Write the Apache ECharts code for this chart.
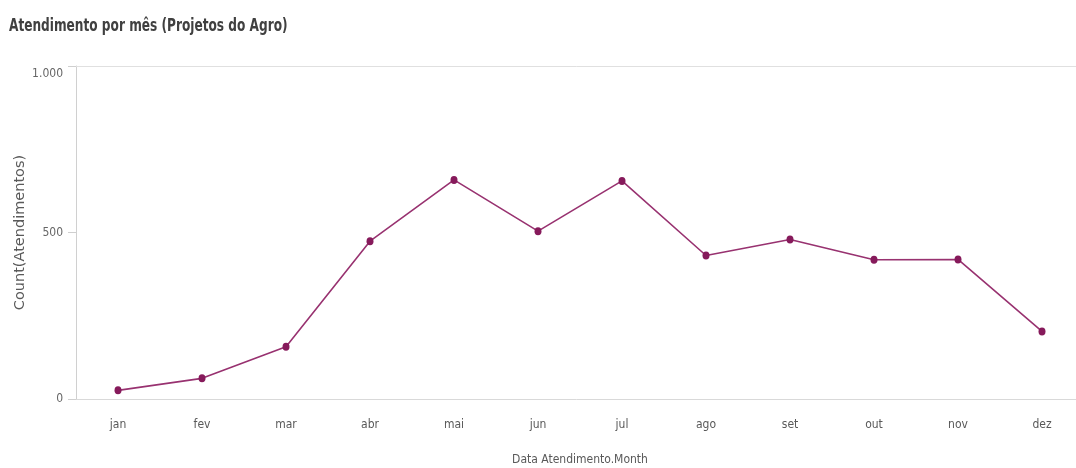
<!DOCTYPE html>
<html>
<head>
    <meta charset="utf-8" />
    <title>Atendimento por mês</title>
    <style>
        html, body { margin: 0; padding: 0; background: #fff; }
        #chart { width: 1076px; height: 468px; }
    </style>
</head>
<body>
    <div id="chart"></div>
    <script src="https://cdn.jsdelivr.net/npm/echarts@6/dist/echarts.min.js"></script>
<script>
    // dados
    var meses = ['jan', 'fev', 'mar', 'abr', 'mai', 'jun', 'jul', 'ago', 'set', 'out', 'nov', 'dez'];
    var atendimentos = [26, 62, 157, 474, 658, 504, 655, 431, 479, 418, 419, 203];
    var yTicks = [0, 500, 1000];

    // fonte estreita: DejaVu Sans com font-stretch condensed
    var narrow = '"DejaVu Sans Condensed", "DejaVu Sans", sans-serif';

    var myChart = echarts.init(document.getElementById('chart'));
    var option = {
        animation: false,
        // título como texto gráfico, comprimido na horizontal
        graphic: [
            {
                type: 'text',
                left: 9,
                top: 17,
                scaleX: 0.75,
                style: {
                    text: 'Atendimento por mês (Projetos do Agro)',
                    fontFamily: narrow,
                    fontSize: 18,
                    fontWeight: 'bold condensed',
                    fill: '#404040'
                }
            }
        ],
        grid: {
            left: 76,
            right: -8,
            top: 66,
            bottom: 69,
            outerBoundsMode: 'none'
        },
        xAxis: [
            {
                type: 'category',
                data: meses,
                boundaryGap: true,
                name: 'Data Atendimento.Month',
                nameLocation: 'middle',
                nameGap: 55,
                nameTextStyle: { fontFamily: narrow, fontWeight: 'normal condensed', fontSize: 12, color: '#595959' },
                axisLine: { lineStyle: { color: '#d9d9d9', width: 1 } },
                axisTick: { show: false },
                axisLabel: { fontFamily: narrow, fontWeight: 'normal condensed', fontSize: 12, color: '#595959', margin: 20 }
            },
            {
                // linha superior do gráfico
                type: 'category',
                position: 'top',
                data: meses,
                axisLine: { show: true, lineStyle: { color: '#e0e0e0', width: 1 } },
                axisTick: { show: false },
                axisLabel: { show: false }
            }
        ],
        yAxis: {
            type: 'value',
            min: 0,
            max: 1000,
            interval: 500,
            name: 'Count(Atendimentos)',
            nameLocation: 'middle',
            nameGap: 48,
            nameMoveOverlap: false,
            nameTextStyle: { fontFamily: '"DejaVu Sans", sans-serif', fontSize: 14.5, color: '#5a5a5a' },
            axisLine: { show: true, lineStyle: { color: '#d0d0d0', width: 1 } },
            axisTick: { show: true, length: 8, lineStyle: { color: '#cfcfcf' } },
            splitLine: { show: false },
            axisLabel: {
                fontFamily: narrow,
                fontWeight: 'normal condensed',
                fontSize: 12,
                color: '#666',
                margin: 13,
                formatter: function (v) {
                    if (yTicks.indexOf(v) < 0) return '';
                    var s = v.toLocaleString('pt-BR');
                    return v === 1000 ? '{top|' + s + '}' : s;
                },
                rich: {
                    top: { padding: [16, 0, 0, 0] }
                }
            }
        },
        series: [
            {
                name: 'Count(Atendimentos)',
                type: 'line',
                data: atendimentos,
                symbol: 'circle',
                symbolSize: [7, 8],
                lineStyle: { color: '#983270', width: 1.6 },
                itemStyle: { color: '#861a5b' }
            }
        ]
    };

    myChart.setOption(option);
</script>
</body>
</html>
